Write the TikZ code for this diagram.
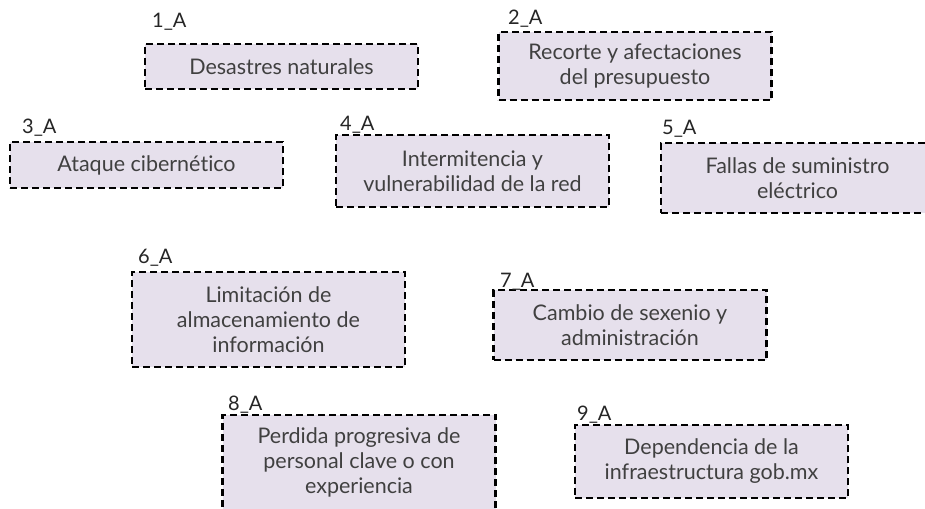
\documentclass[tikz,border=0pt]{standalone}
\usepackage{fontspec}
\setmainfont{Lato}[Ligatures=NoCommon]
\definecolor{lila}{HTML}{E6E0EC}
\definecolor{texto}{HTML}{404040}

\begin{document}
\begin{tikzpicture}[x=1pt, y=-1pt,
  riesgo/.style={draw=black, fill=lila, line width=2.4pt, dash pattern=on 7pt off 4pt,
    minimum width=273pt, inner sep=0pt, align=center, text=texto,
    font=\fontsize{21.5}{25}\selectfont},
  clave/.style={anchor=base west, inner sep=0pt, text=black!85,
    font=\fontsize{20}{22}\selectfont}]
\clip (0,0) rectangle (925,508);
\fill[white] (0,0) rectangle (925,508);
% riesgos
\node [riesgo, minimum height=45pt] (r1) at (281.5,66.5) {Desastres naturales};
\node [riesgo, minimum height=68pt] (r2) at (635,66) {Recorte y afectaciones\\del presupuesto};
\node [riesgo, minimum height=46pt] (r3) at (146.5,165) {Ataque cibernético};
\node [riesgo, minimum height=72pt] (r4) at (472.5,171) {Intermitencia y\\vulnerabilidad de la red};
\node [riesgo, minimum height=70pt] (r5) at (797.5,178) {Fallas de suministro\\eléctrico};
\node [riesgo, minimum height=95pt] (r6) at (268.5,319.5) {Limitación de\\almacenamiento de\\información};
\node [riesgo, minimum height=70pt] (r7) at (630,325) {Cambio de sexenio y\\administración};
\node [riesgo, minimum height=95pt] (r8) at (359,462.5) {Perdida progresiva de\\personal clave o con\\experiencia};
\node [riesgo, minimum height=73pt] (r9) at (711.5,461.5) {Dependencia de la\\infraestructura gob.mx};
% claves
\node [clave] (c1) at (152,28) {1\_A};
\node [clave] (c2) at (508,25) {2\_A};
\node [clave] (c3) at (22,133) {3\_A};
\node [clave] (c4) at (340,130) {4\_A};
\node [clave] (c5) at (662,135) {5\_A};
\node [clave] (c6) at (138,263) {6\_A};
\node [clave] (c7) at (500,287) {7\_A};
\node [clave] (c8) at (228,410) {8\_A};
\node [clave] (c9) at (577,420) {9\_A};
\end{tikzpicture}
\end{document}
